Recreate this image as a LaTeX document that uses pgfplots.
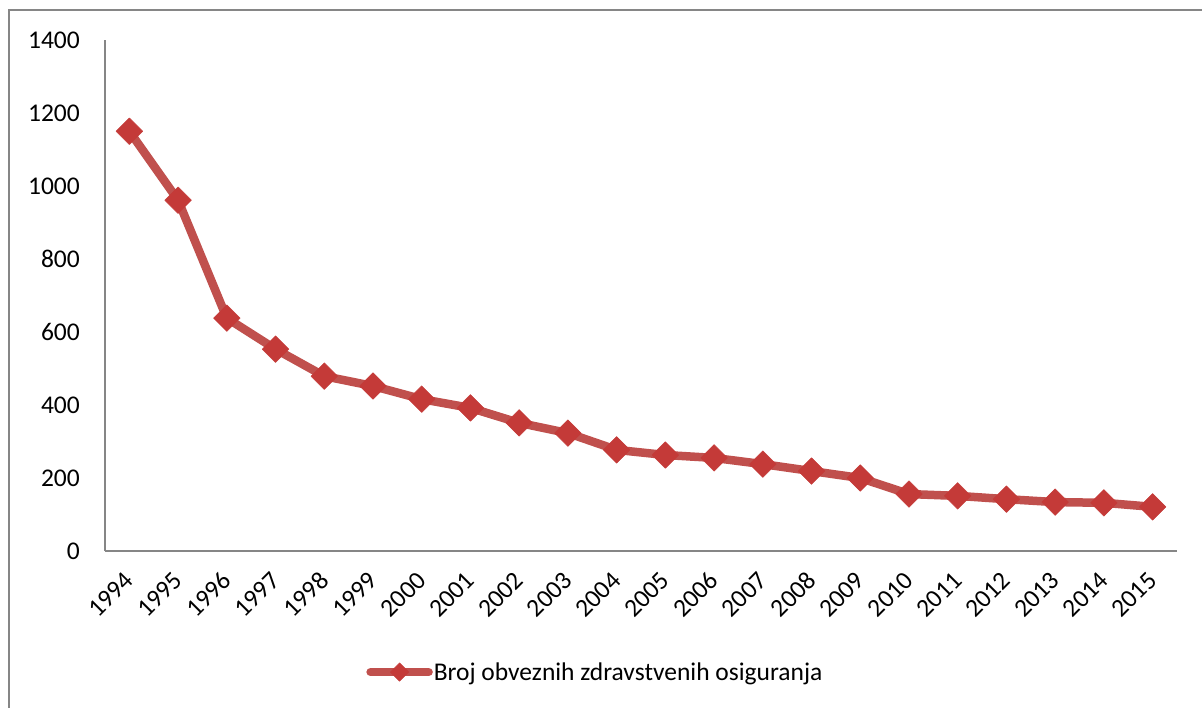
\documentclass[border=0pt]{standalone}
\usepackage{fontspec}
\setmainfont{Carlito}
\usepackage{pgfplots}
\pgfplotsset{compat=1.18}
\definecolor{serred}{RGB}{192,80,77}
\definecolor{mkred}{RGB}{196,58,56}
\definecolor{axgray}{RGB}{134,134,134}
\begin{document}
\begin{tikzpicture}[x=1pt,y=1pt]
\path[use as bounding box] (0,0) rectangle (1202,707);
\draw[axgray, line width=2.5pt] (9,-5) -- (9,697) -- (1210,697);
\begin{axis}[at={(105pt,156pt)}, anchor=south west, scale only axis,
  width=1072pt, height=511pt,
  xmin=1993.5, xmax=2015.5, ymin=0, ymax=1400,
  axis x line=bottom, axis y line=left,
  axis line style={axgray, line width=1.5pt, -},
  xtick={1994,...,2015}, ytick={0,200,...,1400},
  major tick length=0pt,
  /pgf/number format/assume math mode=true,
  /pgf/number format/set thousands separator={},
  x tick label style={rotate=45, anchor=east, inner sep=0pt, font=\fontsize{25.5}{25.5}\selectfont},
  xticklabel shift=25pt,
  y tick label style={anchor=east, inner sep=0pt, font=\fontsize{25.5}{25.5}\selectfont},
  yticklabel shift=25pt,
  legend style={at={(0.457,-0.237)}, anchor=center, draw=none, fill=none,
    font=\fontsize{25.5}{25.5}\selectfont, inner sep=0pt, nodes={inner sep=1pt}},
  legend cell align=left,
  legend image code/.code={\draw[mark repeat=2,mark phase=2,#1, mark size=6.5pt] plot coordinates {(0pt,0pt)(29pt,0pt)(58pt,0pt)};},
]
\addplot[color=serred, line width=8.5pt, line join=round, line cap=round,
  mark=square*, mark size=9.4pt, mark options={rotate=45, fill=mkred, draw=mkred, line width=0.5pt}]
  coordinates {
(1994,1150) (1995,961) (1996,638) (1997,553) (1998,479) (1999,452)
(2000,416) (2001,392) (2002,351) (2003,323) (2004,277) (2005,263)
(2006,255) (2007,238) (2008,219) (2009,200) (2010,156) (2011,151)
(2012,142) (2013,134) (2014,132) (2015,121)
};
\addlegendentry{Broj obveznih zdravstvenih osiguranja}
\end{axis}
\end{tikzpicture}
\end{document}
